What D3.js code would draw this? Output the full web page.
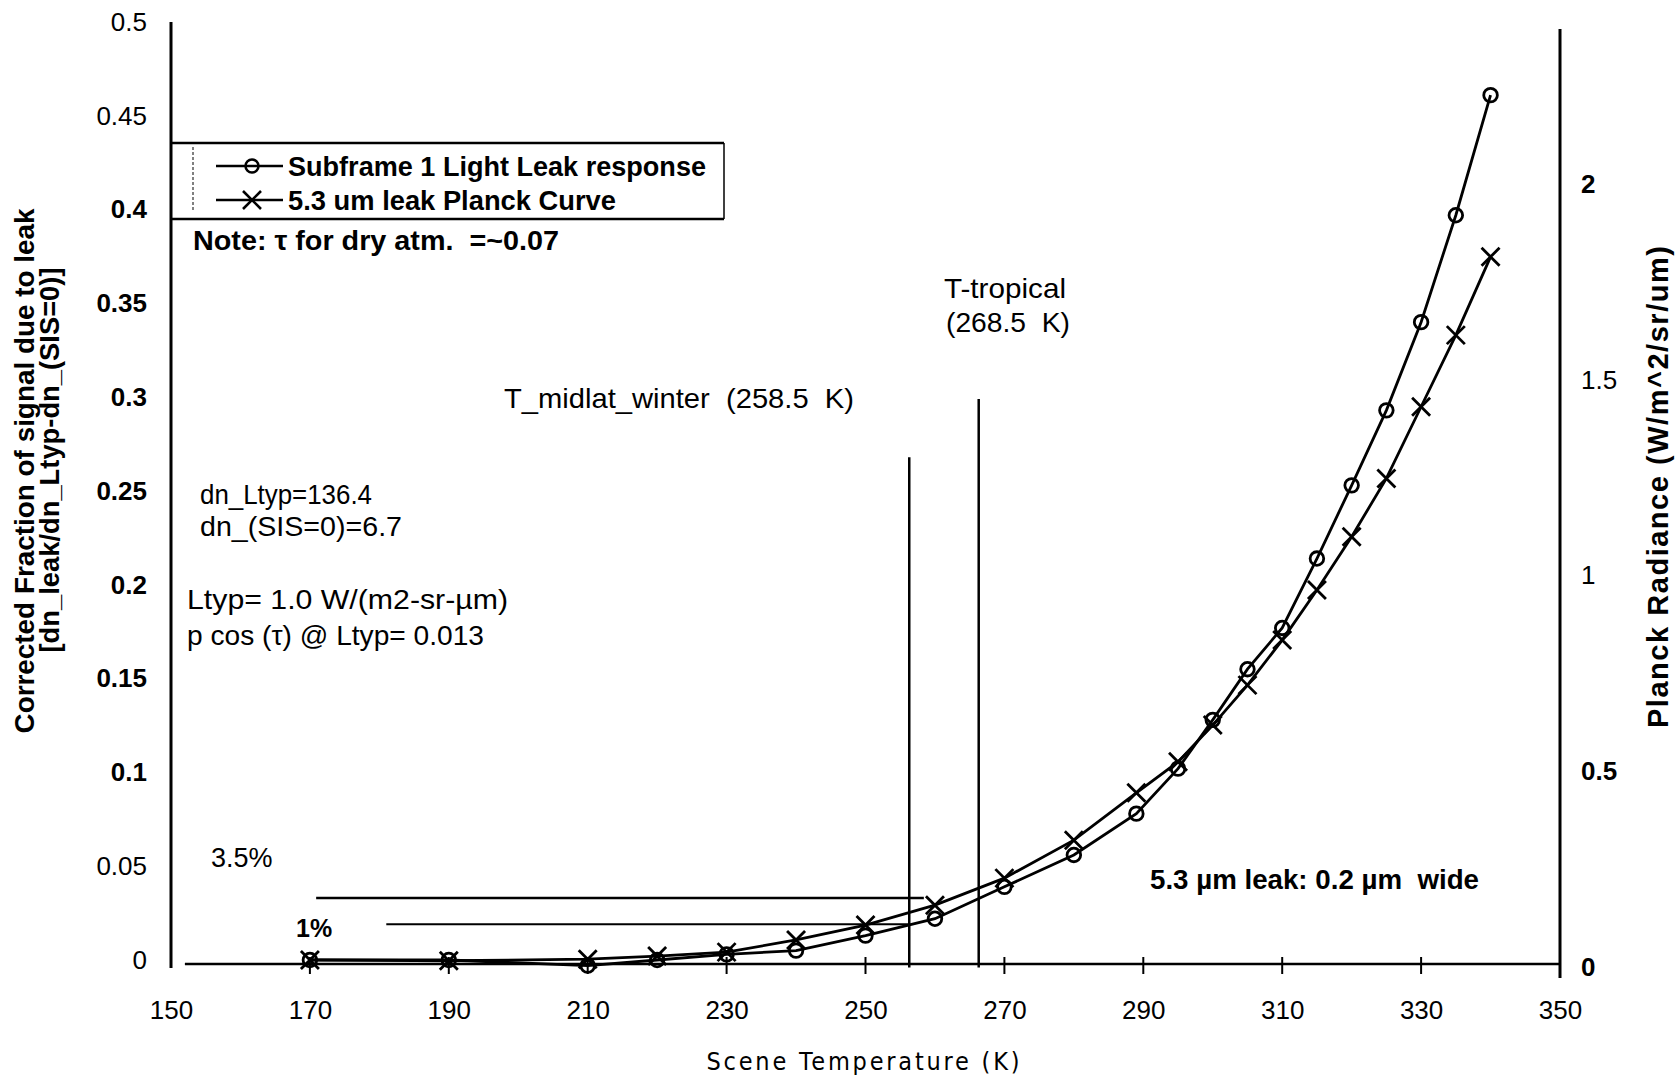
<!DOCTYPE html>
<html><head><meta charset="utf-8">
<script src="https://cdn.jsdelivr.net/npm/d3@7"></script>
<style>
html,body{margin:0;padding:0;background:#fff;}
svg{display:block;}
text{font-family:"Liberation Sans", Arial, sans-serif; fill:#000;}
</style></head><body>
<svg id="chart" width="1679" height="1077"></svg>
<script>
// ---------- data ----------
const temps = [170,190,210,220,230,240,250,260,270,280,289,295,300,305,310,315,320,325,330,335,340];
const leakResponse = [0,0,-0.003,0.000,0.003,0.005,0.013,0.022,0.039,0.056,0.078,0.102,0.128,0.155,0.177,0.214,0.253,0.293,0.340,0.397,0.461];
const planckRadiance = [0.018,0.016,0.020,0.028,0.038,0.069,0.107,0.158,0.227,0.324,0.445,0.524,0.618,0.720,0.835,0.963,1.099,1.248,1.431,1.614,1.814];
const seriesNames = ["Subframe 1 Light Leak response", "5.3 um leak Planck Curve"];
const xTicks = [150,170,190,210,230,250,270,290,310,330,350];
const leftTicks = [0,0.05,0.1,0.15,0.2,0.25,0.3,0.35,0.4,0.45,0.5];
const rightTicks = [0,0.5,1,1.5,2];
const refTemps = [256.3, 266.3];          // vertical marker lines (K)
const refTops = [0.268, 0.299];           // their top (left-axis units)
const pctLabels = ["3.5%", "1%"];
const pctLevels = [0.033, 0.019];         // horizontal guide levels (left axis)
const pctStart = [170.9, 181.0];
const pctEnd = [258.4, 256.3];

// ---------- scales ----------
const svg = d3.select("#chart");
const x = d3.scaleLinear().domain([150, 350]).range([171, 1560]);
const yL = d3.scaleLinear().domain([0, 0.5]).range([960, 22]);
const yR = d3.scaleLinear().domain([0, 2.4]).range([967, 27.4]);
const ink = "#000";
const FONT = '"Liberation Sans", Arial, sans-serif';

// ---------- axes ----------
const fmt = d => String(+d.toFixed(2));
const boldLeft = new Set([0.1,0.15,0.2,0.25,0.3,0.35,0.4]);
const boldRight = new Set([0,0.5,2]);

const gL = svg.append("g").attr("transform","translate(171,0)")
  .call(d3.axisLeft(yL).tickValues(leftTicks).tickSize(0).tickPadding(24).tickFormat(fmt));
gL.select(".domain").remove();
gL.selectAll("text").style("font-size","26px").style("font-family",FONT)
  .style("font-weight", d => boldLeft.has(d) ? "bold" : "normal");
svg.append("line").attr("x1",171).attr("x2",171).attr("y1",22).attr("y2",968).attr("stroke",ink).attr("stroke-width",3);

const gR = svg.append("g").attr("transform","translate(1560,0)")
  .call(d3.axisRight(yR).tickValues(rightTicks).tickSize(0).tickPadding(21).tickFormat(fmt));
gR.select(".domain").remove();
gR.selectAll("text").style("font-size","26px").style("font-family",FONT)
  .style("font-weight", d => boldRight.has(d) ? "bold" : "normal");
svg.append("line").attr("x1",1560).attr("x2",1560).attr("y1",29).attr("y2",978).attr("stroke",ink).attr("stroke-width",3);

const axisY = 964;
const gX = svg.append("g").attr("transform",`translate(0,${axisY})`)
  .call(d3.axisBottom(x).tickValues(xTicks).tickSize(0).tickPadding(37).tickFormat(d3.format("d")));
gX.select(".domain").remove();
gX.selectAll("text").style("font-size","26px").style("font-family",FONT);
svg.append("line").attr("x1",x(152)).attr("x2",1560).attr("y1",axisY).attr("y2",axisY).attr("stroke",ink).attr("stroke-width",2.5);
svg.append("g").selectAll("line").data(xTicks.slice(1,-1)).join("line")
  .attr("x1",d=>x(d)).attr("x2",d=>x(d)).attr("y1",axisY-7).attr("y2",axisY+10)
  .attr("stroke",ink).attr("stroke-width",2);

// axis titles
svg.append("text").attr("x",863).attr("y",1070).attr("text-anchor","middle")
  .attr("textLength",313).attr("lengthAdjust","spacing")
  .style("font-size","25px").style("font-family",'"Liberation Sans Narrow","DejaVu Sans Condensed",sans-serif')
  .text("Scene Temperature (K)");
svg.append("text").attr("transform","translate(34,471) rotate(-90)").attr("text-anchor","middle")
  .attr("textLength",525).attr("lengthAdjust","spacingAndGlyphs")
  .style("font-size","27px").style("font-weight","bold").text("Corrected Fraction of signal due to leak");
svg.append("text").attr("transform","translate(59,460) rotate(-90)").attr("text-anchor","middle")
  .attr("textLength",385).attr("lengthAdjust","spacingAndGlyphs")
  .style("font-size","27px").style("font-weight","bold").text("[dn_leak/dn_Ltyp-dn_(SIS=0)]");
svg.append("text").attr("transform","translate(1668,487) rotate(-90)").attr("text-anchor","middle")
  .attr("textLength",482).attr("lengthAdjust","spacing")
  .style("font-size","29px").style("font-weight","bold").text("Planck Radiance (W/m^2/sr/um)");

// ---------- reference lines ----------
svg.append("g").selectAll("line").data(refTemps).join("line")
  .attr("x1",d=>x(d)).attr("x2",d=>x(d))
  .attr("y1",yL(-0.004)).attr("y2",(d,i)=>yL(refTops[i]))
  .attr("stroke",ink).attr("stroke-width",2.5);
svg.append("g").selectAll("line").data(pctLevels).join("line")
  .attr("x1",(d,i)=>x(pctStart[i])).attr("x2",(d,i)=>x(pctEnd[i]))
  .attr("y1",d=>yL(d)).attr("y2",d=>yL(d))
  .attr("stroke",ink).attr("stroke-width",(d,i)=> i===0 ? 2.5 : 2);

// ---------- series ----------
const leakPts = temps.map((t,i)=>({t, v: leakResponse[i]}));
const planckPts = temps.map((t,i)=>({t, v: planckRadiance[i]}));
svg.append("path").datum(leakPts)
  .attr("d", d3.line().x(d=>x(d.t)).y(d=>yL(d.v)))
  .attr("fill","none").attr("stroke",ink).attr("stroke-width",2.8);
svg.append("path").datum(planckPts)
  .attr("d", d3.line().x(d=>x(d.t)).y(d=>yR(d.v)))
  .attr("fill","none").attr("stroke",ink).attr("stroke-width",2.8);
const crossPath = "M-9,-9L9,9M-9,9L9,-9";
svg.append("g").selectAll("path").data(planckPts).join("path")
  .attr("transform",d=>`translate(${x(d.t)},${yR(d.v)})`)
  .attr("d",crossPath).attr("stroke",ink).attr("stroke-width",2.8).attr("fill","none");
svg.append("g").selectAll("circle").data(leakPts).join("circle")
  .attr("cx",d=>x(d.t)).attr("cy",d=>yL(d.v)).attr("r",6.8)
  .attr("fill","none").attr("stroke",ink).attr("stroke-width",2.8);

// ---------- legend ----------
const lg = svg.append("g");
lg.append("line").attr("x1",171).attr("x2",724).attr("y1",143).attr("y2",143).attr("stroke",ink).attr("stroke-width",2.5);
lg.append("line").attr("x1",171).attr("x2",724).attr("y1",219).attr("y2",219).attr("stroke",ink).attr("stroke-width",2.5);
lg.append("line").attr("x1",724).attr("x2",724).attr("y1",143).attr("y2",219).attr("stroke",ink).attr("stroke-width",1.5);
lg.append("line").attr("x1",193).attr("x2",193).attr("y1",147).attr("y2",212).attr("stroke",ink).attr("stroke-width",1).attr("stroke-dasharray","3,2");
const rows = [166, 200];
seriesNames.forEach((name,i)=>{
  const cy = rows[i];
  lg.append("line").attr("x1",216).attr("x2",283).attr("y1",cy).attr("y2",cy).attr("stroke",ink).attr("stroke-width",2.5);
  if(i===0){
    lg.append("circle").attr("cx",252).attr("cy",cy).attr("r",6.5).attr("fill","none").attr("stroke",ink).attr("stroke-width",2.5);
  } else {
    lg.append("path").attr("transform",`translate(252,${cy})`).attr("d",crossPath).attr("stroke",ink).attr("stroke-width",2.6);
  }
  lg.append("text").attr("x",288).attr("y",cy+10).attr("textLength",i===0 ? 418 : 328).attr("lengthAdjust","spacingAndGlyphs")
    .style("font-size","27px").style("font-weight","bold").text(name);
});
svg.append("text").attr("x",193).attr("y",250).attr("textLength",366).attr("lengthAdjust","spacingAndGlyphs")
  .style("font-size","27px").style("font-weight","bold")
  .style("white-space","pre").text("Note: \u03c4 for dry atm.  =~0.07");

// ---------- annotations ----------
const ann = [
  {t:"dn_Ltyp=136.4", x:200, y:504, w:"normal", len:172},
  {t:"dn_(SIS=0)=6.7", x:200, y:536, w:"normal", len:202},
  {t:"Ltyp= 1.0 W/(m2-sr-\u00b5m)", x:187, y:609, w:"normal", len:321},
  {t:"p cos (\u03c4) @ Ltyp= 0.013", x:187, y:645, w:"normal", len:297},
  {t:"T_midlat_winter  (258.5  K)", x:504, y:408, w:"normal", len:350},
  {t:"T-tropical", x:944, y:298, w:"normal", len:122},
  {t:"(268.5  K)", x:946, y:332, w:"normal", len:124},
  {t:"5.3 \u00b5m leak: 0.2 \u00b5m  wide", x:1150, y:889, w:"bold", len:329}
];
svg.append("g").selectAll("text").data(ann).join("text")
  .attr("x",d=>d.x).attr("y",d=>d.y).attr("textLength",d=>d.len).attr("lengthAdjust","spacingAndGlyphs")
  .style("font-size","28px").style("font-weight",d=>d.w)
  .style("white-space","pre").text(d=>d.t);
svg.append("g").selectAll("text").data(pctLabels).join("text")
  .attr("x",(d,i)=> i===0 ? 211 : 296).attr("y",(d,i)=> i===0 ? 867 : 937)
  .style("font-size",(d,i)=> i===0 ? "27px" : "25px").style("font-weight",(d,i)=> i===0 ? "normal" : "bold")
  .text(d=>d);
</script>
</body></html>
